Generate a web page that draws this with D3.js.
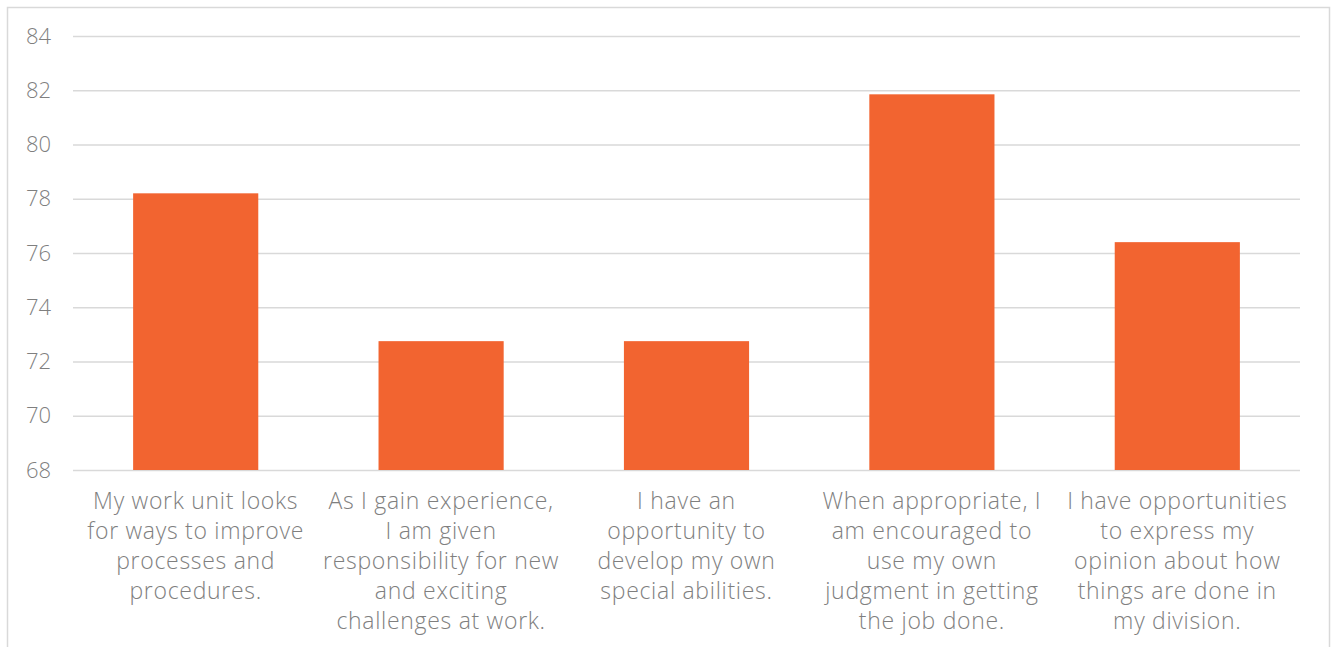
<!DOCTYPE html>
<html><head><meta charset="utf-8">
<script src="https://cdn.jsdelivr.net/npm/d3@7"></script>
<style>body{margin:0;background:#fff;} text{font-family:"Open Sans","Lato",sans-serif;}</style>
</head><body>
<svg id="c" width="1336" height="647"></svg>
<script>
const categories = [
  ["My work unit looks","for ways to improve","processes and","procedures."],
  ["As I gain experience,","I am given","responsibility for new","and exciting","challenges at work."],
  ["I have an","opportunity to","develop my own","special abilities."],
  ["When appropriate, I","am encouraged to","use my own","judgment in getting","the job done."],
  ["I have opportunities","to express my","opinion about how","things are done in","my division."]
];
const values = [78.2, 72.75, 72.75, 81.85, 76.4];
const yTicks = [68,70,72,74,76,78,80,82,84];

const svg = d3.select("#c");
const m = {l:73, r:1300, t:36, b:470};
svg.append("path").attr("d","M7.5,647 V7.5 H1329.5 V647").attr("fill","none").attr("stroke","#d9d9d9").attr("stroke-width",1.5);

const x = d3.scaleBand().domain(d3.range(values.length)).range([m.l,m.r]).paddingInner(0.49).paddingOuter(0.245);
const y = d3.scaleLinear().domain([68,84]).range([m.b,m.t]);

const yAxis = d3.axisLeft(y).tickValues(yTicks).tickSize(-(m.r-m.l)).tickPadding(22);
const gy = svg.append("g").attr("transform",`translate(${m.l},0)`).call(yAxis);
gy.select(".domain").remove();
gy.selectAll(".tick line").attr("stroke","#d9d9d9").attr("stroke-width",1.5);
gy.selectAll(".tick text").attr("fill","#7f7f7f").style("font-size","22px").style("font-weight","300");

svg.append("g").selectAll("rect").data(values).join("rect")
  .attr("x",(d,i)=>x(i)).attr("width",x.bandwidth())
  .attr("y",d=>y(d)).attr("height",d=>y(68)-y(d))
  .attr("fill","#f26430");

const lab = svg.append("g");
categories.forEach((lines,i)=>{
  const t = lab.append("text").attr("text-anchor","middle").attr("fill","#7f7f7f")
    .style("font-size","23px").style("font-weight","300").style("letter-spacing","0.7px");
  lines.forEach((ln,j)=>{
    t.append("tspan").attr("x",x(i)+x.bandwidth()/2).attr("y",509+30*j).text(ln);
  });
});
</script>
</body></html>
